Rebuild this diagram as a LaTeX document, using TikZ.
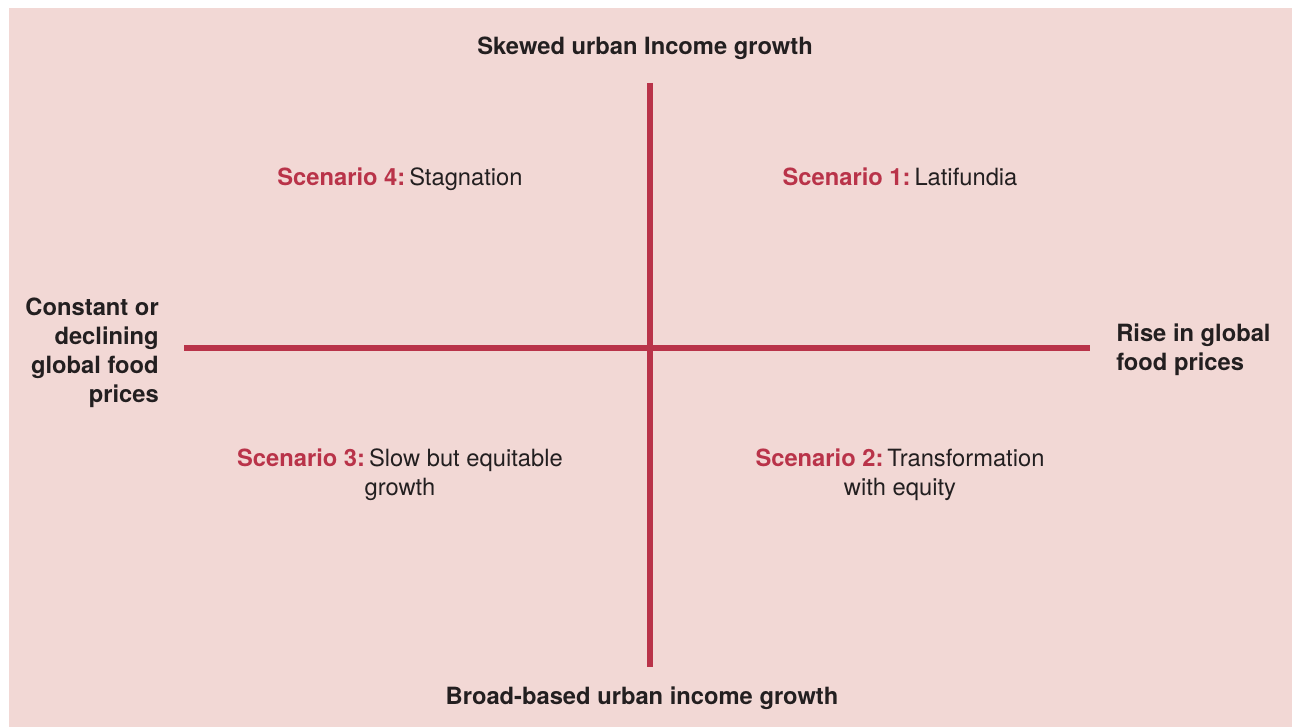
\documentclass[tikz,border=0pt]{standalone}
\usepackage{fontspec}
\setmainfont{TeX Gyre Heros}
\definecolor{bgpink}{HTML}{F2D8D5}
\definecolor{axred}{HTML}{B93349}
\definecolor{txt}{HTML}{231F20}
\begin{document}
\begin{tikzpicture}[x=0.75pt,y=-0.75pt,
  axis/.style={draw=axred,line width=4.5pt},
  lab/.style={font=\fontsize{17.8}{21.75}\selectfont\bfseries,text=txt,inner sep=0pt},
  scen/.style={font=\fontsize{17.8}{21.75}\selectfont,text=txt,inner sep=0pt,align=center}]
\useasboundingbox (0,0) rectangle (1293,727);
\fill[bgpink] (9,8) rectangle (1292,727);
\coordinate (vt) at (650,83);
\coordinate (vb) at (650,667);
\coordinate (hl) at (184,348.5);
\coordinate (hr) at (1090,348.5);
\draw[axis] (vt) -- (vb);
\draw[axis] (hl) -- (hr);
\node[lab] (top) at (645,48) {Skewed urban Income growth};
\node[lab] (bot) at (642,698) {Broad-based urban income growth};
\node[lab,align=right,anchor=east] (left) at (159,353) {Constant or\\declining\\global food\\prices};
\node[lab,align=left,anchor=west] (right) at (1116,350) {Rise in global\\food prices};
\node[scen,anchor=base] (s4) at (400,186) {{\color{axred}\bfseries Scenario 4:}\,Stagnation};
\node[scen,anchor=base] (s1) at (900,186) {{\color{axred}\bfseries Scenario 1:}\,Latifundia};
\node[scen] (s3) at (400,475) {{\color{axred}\bfseries Scenario 3:}\,Slow but equitable\\growth};
\node[scen] (s2) at (900,475) {{\color{axred}\bfseries Scenario 2:}\,Transformation\\with equity};
\end{tikzpicture}
\end{document}
